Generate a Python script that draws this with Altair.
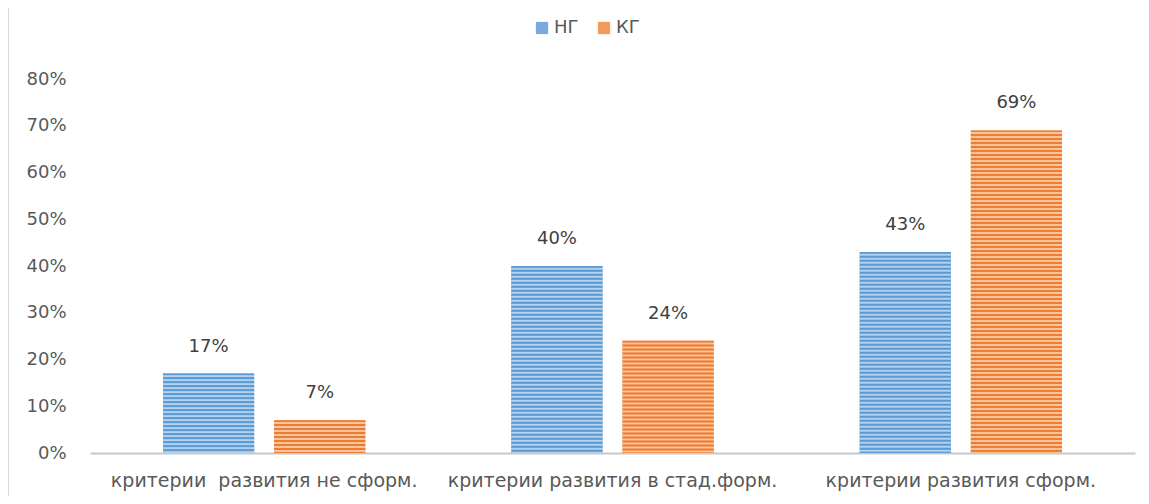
import altair as alt
import pandas as pd

categories = ["критерии \u00a0развития не сформ.", "критерии развития в стад.форм.", "критерии развития сформ."]
groups = ["НГ", "КГ"]
ng_values = [0.17, 0.40, 0.43]
kg_values = [0.07, 0.24, 0.69]
colors = ["#79acdd", "#f19a5c"]
stripe_dark = ["#5b9bd5", "#ed7d31"]
stripe_light = ["#b4d1ee", "#f8c4a0"]
y_ticks = [0, 0.1, 0.2, 0.3, 0.4, 0.5, 0.6, 0.7, 0.8]

rows = []
for c, v in zip(categories, ng_values):
    rows.append({"cat": c, "grp": "НГ", "val": v})
for c, v in zip(categories, kg_values):
    rows.append({"cat": c, "grp": "КГ", "val": v})
df = pd.DataFrame(rows)

FONT = "DejaVu Sans"
TXT = "#595959"
FS = 18
W, H = 1045, 374
YMAX = 0.8

x = alt.X("cat:N", sort=categories, title=None,
          scale=alt.Scale(paddingInner=0, paddingOuter=0),
          axis=alt.Axis(labelAngle=0, ticks=False, domainColor="#c8c8c8", domainWidth=2,
                        labelPadding=18, labelFontSize=19, labelColor=TXT, labelFont=FONT,
                        labelLimit=400))
y = alt.Y("val:Q", title=None,
          scale=alt.Scale(domain=[0, YMAX], nice=False),
          axis=alt.Axis(values=y_ticks, format=".0%", grid=False, domain=False, ticks=False,
                        labelPadding=24, labelFontSize=FS, labelColor=TXT, labelFont=FONT))
xo = alt.XOffset("grp:N", sort=groups, scale=alt.Scale(paddingInner=0.18, paddingOuter=0.657))

base = alt.Chart(df).encode(x=x, xOffset=xo, y=y)

bars = base.mark_bar().encode(
    color=alt.Color("grp:N", sort=groups, scale=alt.Scale(domain=groups, range=colors),
                    legend=alt.Legend(title=None, orient="none", direction="horizontal",
                                      legendX=443, legendY=-60, symbolType="square",
                                      symbolSize=150, symbolStrokeWidth=0,
                                      labelFontSize=FS, labelColor=TXT, labelFont=FONT,
                                      columnPadding=16, labelOffset=3))
)


def stripes(gi, val):
    h = val / YMAX * H
    period = 4.0
    dark, light = stripe_dark[gi], stripe_light[gi]
    stops = []
    pos = 0.0
    while pos < h:
        pts = [(0.0, dark), (1.4, dark), (2.1, light), (3.3, light)]
        for d, col in pts:
            stops.append(alt.GradientStop(color=col, offset=min(pos + d, h) / h))
        pos += period
    stops.append(alt.GradientStop(color=dark, offset=1.0))
    return alt.Gradient(gradient="linear", stops=stops, x1=0, x2=0, y1=0, y2=1)


layers = [bars]
for gi, (g, vals) in enumerate(zip(groups, [ng_values, kg_values])):
    for c, v in zip(categories, vals):
        layers.append(
            base.mark_bar(color=stripes(gi, v)).transform_filter(
                (alt.datum.cat == c) & (alt.datum.grp == g))
        )

labels = base.mark_text(dy=-18, fontSize=FS, color="#404040", font=FONT, baseline="bottom").encode(
    text=alt.Text("val:Q", format=".0%")
)
layers.append(labels)

frame = alt.Chart(df).mark_rule(color="#d9d9d9", strokeWidth=2).encode(
    x=alt.value(-82), y=alt.value(-79), y2=alt.value(430)
)
layers.append(frame)

chart = alt.layer(*layers).properties(
    width=W, height=H,
    padding={"left": 82, "top": 71, "right": 6, "bottom": 43},
    autosize=alt.AutoSizeParams(type="none"),
    background="white",
).configure_view(stroke=None)

chart.save("out.html", embed_options={"renderer": "svg", "actions": False})
